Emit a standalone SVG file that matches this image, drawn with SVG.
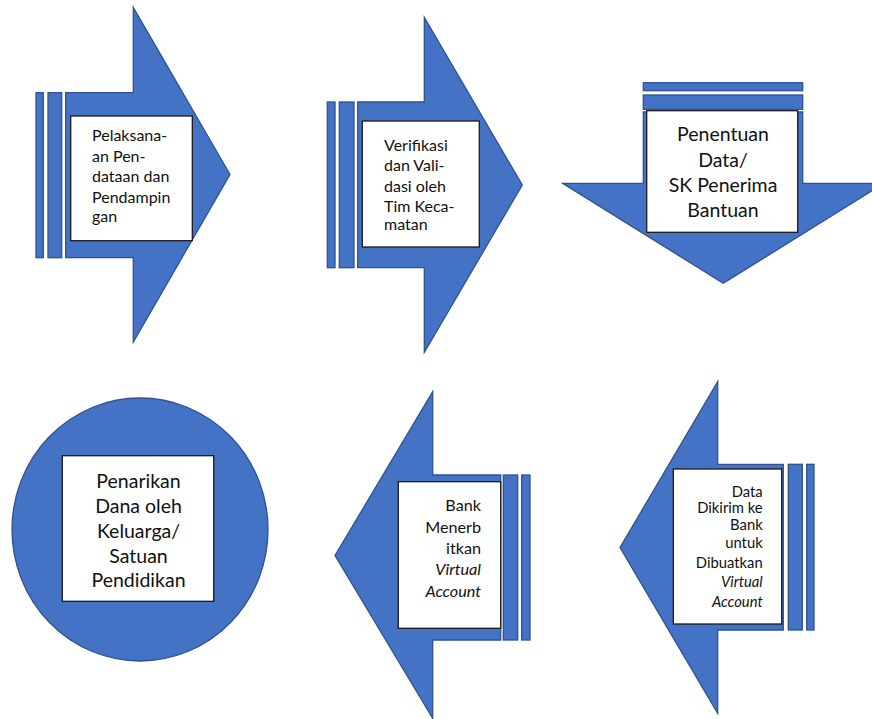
<svg xmlns="http://www.w3.org/2000/svg" width="872" height="719" viewBox="0 0 872 719">
<style>
.shape{fill:#4472C4;stroke:#2F528F;stroke-width:1.3}
.box{fill:#ffffff;stroke:#1a1a1a;stroke-width:1.3}
text{font-family:Lato,"Open Sans","DejaVu Sans",sans-serif;fill:#111111}
.t1{font-size:16px}
.t3{font-size:19.5px;text-anchor:middle}
.t5{font-size:16.2px;text-anchor:end}
.t6{font-size:14.8px;text-anchor:end}
.it{font-style:italic}
</style>
<rect width="872" height="719" fill="#ffffff"/>
<g id="step1">
<polygon class="shape" points="65.7,92.7 133.3,92.7 133.3,7.3 230,174.5 133.3,342 133.3,257.7 65.7,257.7"/>
<rect class="shape" x="36" y="92.7" width="7.3" height="165"/>
<rect class="shape" x="48" y="92.7" width="13.7" height="165"/>
<rect class="box" x="70.7" y="116" width="121.6" height="124.7"/>
<text class="t1" x="92" y="140.7">Pelaksana-</text>
<text class="t1" x="92" y="161.7">an Pen-</text>
<text class="t1" x="92" y="181.7">dataan dan</text>
<text class="t1" x="92" y="202.7">Pendampin</text>
<text class="t1" x="92" y="221.7">gan</text>
</g>
<g id="step2">
<polygon class="shape" points="357.7,102 424.3,102 424.3,17.3 522.3,185 424.3,352.3 424.3,267.7 357.7,267.7"/>
<rect class="shape" x="327.3" y="102" width="7.7" height="165.7"/>
<rect class="shape" x="339.3" y="102" width="14.7" height="165.7"/>
<rect class="box" x="362.3" y="121" width="117" height="126"/>
<text class="t1" x="384" y="150.7">Verifikasi</text>
<text class="t1" x="384" y="171">dan Vali-</text>
<text class="t1" x="384" y="191.7">dasi oleh</text>
<text class="t1" x="384" y="211.7">Tim Keca-</text>
<text class="t1" x="384" y="230">matan</text>
</g>
<g id="step3">
<rect class="shape" x="643.3" y="82.7" width="159.4" height="8"/>
<rect class="shape" x="643.3" y="95" width="159.4" height="14.3"/>
<polygon class="shape" points="643.3,112 802.7,112 802.7,183.3 883.9,183.3 723.3,283.3 562.7,183.3 643.3,183.3"/>
<rect class="box" x="646.7" y="110.7" width="151" height="121.6"/>
<text class="t3" x="723" y="141">Penentuan</text>
<text class="t3" x="723" y="166.7">Data/</text>
<text class="t3" x="723" y="191.7">SK Penerima</text>
<text class="t3" x="723" y="216.7">Bantuan</text>
</g>
<g id="step6">
<ellipse class="shape" cx="140" cy="529.5" rx="128" ry="131.5"/>
<rect class="box" x="62.3" y="455.7" width="151.4" height="145.6"/>
<text class="t3" x="138.5" y="488.3">Penarikan</text>
<text class="t3" x="138.5" y="512.5">Dana oleh</text>
<text class="t3" x="138.5" y="538">Keluarga/</text>
<text class="t3" x="138.5" y="562.5">Satuan</text>
<text class="t3" x="138.5" y="586.5">Pendidikan</text>
</g>
<g id="step5">
<polygon class="shape" points="500.7,475 432.7,475 432.7,391.7 335,555.5 432.7,718.3 432.7,640 500.7,640"/>
<rect class="shape" x="503.3" y="475" width="14.4" height="165"/>
<rect class="shape" x="521.7" y="475" width="8.3" height="165"/>
<rect class="box" x="398.3" y="481.7" width="102.4" height="146.6"/>
<text class="t5" x="481" y="511.3">Bank</text>
<text class="t5" x="481" y="533">Menerb</text>
<text class="t5" x="481" y="554">itkan</text>
<text class="t5 it" x="481" y="574.7">Virtual</text>
<text class="t5 it" x="481" y="597.3">Account</text>
</g>
<g id="step4">
<polygon class="shape" points="783.3,464.3 717.7,464.3 717.7,381.7 620,547.5 717.7,713.3 717.7,630 783.3,630"/>
<rect class="shape" x="788.3" y="464.3" width="14" height="165.7"/>
<rect class="shape" x="806.7" y="464.3" width="7.3" height="165.7"/>
<rect class="box" x="673.3" y="469" width="108.4" height="155"/>
<text class="t6" x="762.7" y="496.7">Data</text>
<text class="t6" x="762.7" y="513.3">Dikirim ke</text>
<text class="t6" x="762.7" y="530">Bank</text>
<text class="t6" x="762.7" y="548.3">untuk</text>
<text class="t6" x="762.7" y="568.3">Dibuatkan</text>
<text class="t6 it" x="762.7" y="586.7">Virtual</text>
<text class="t6 it" x="762.7" y="606.7">Account</text>
</g>
<g id="connectors"></g>
</svg>
